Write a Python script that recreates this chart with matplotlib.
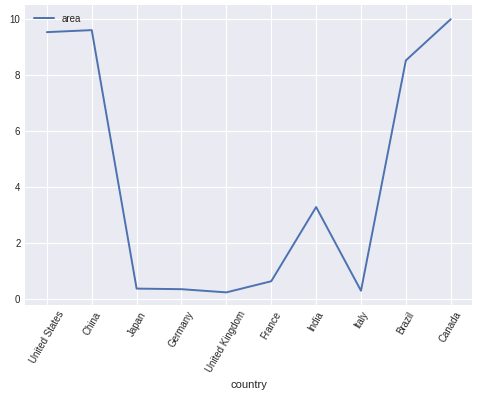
import matplotlib
matplotlib.use("Agg")
import matplotlib.pyplot as plt
import pandas as pd

# country areas (million km2)
countries = ["United States", "China", "Japan", "Germany", "United Kingdom",
             "France", "India", "Italy", "Brazil", "Canada"]
area = [9.525, 9.597, 0.378, 0.357, 0.243, 0.640, 3.287, 0.301, 8.516, 9.985]

df = pd.DataFrame({"country": countries, "area": area}).set_index("country")

plt.style.use("seaborn-v0_8-darkgrid")
plt.rcParams["font.family"] = ["Liberation Sans", "DejaVu Sans"]
plt.rcParams["font.size"] = 7.5

fig, ax = plt.subplots(figsize=(4.78, 4.0), dpi=100)
ax.plot(range(len(countries)), df["area"], color="#4c72b0", linewidth=1.4, label="area")
ax.set_xticks(range(len(countries)))
ax.set_xticklabels(countries, rotation=60)
ax.set_xlabel("country", fontsize=8)
ax.tick_params(labelsize=7)
ax.set_xlim(-0.48, 9.48)
ax.set_ylim(-0.2, 10.5)
ax.legend(loc="upper left", fontsize=7)
fig.subplots_adjust(left=0.053, right=0.988, top=0.988, bottom=0.238)
fig.savefig("out.png", dpi=100)
